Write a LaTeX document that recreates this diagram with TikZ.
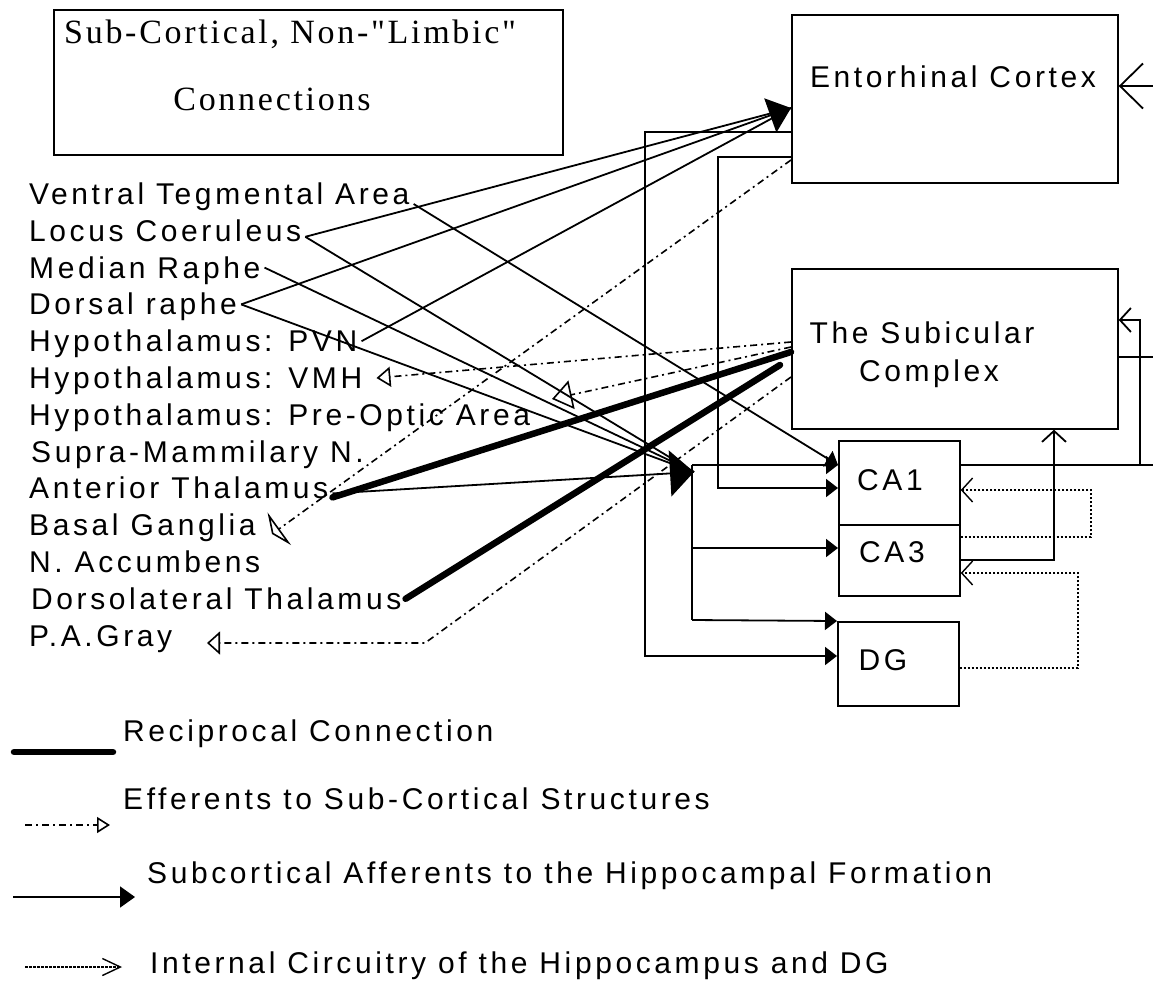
\documentclass[tikz,border=0pt]{standalone}
\usepackage{fontspec}
\newfontfamily\plotsans[LetterSpace=12]{Liberation Sans}
\newfontfamily\plotserif[LetterSpace=8]{Liberation Serif}
\usetikzlibrary{arrows.meta}
\begin{document}
\begin{tikzpicture}[x=1pt,y=-1pt,
  lbl/.style={font=\plotsans\fontsize{30}{34}\selectfont, text height=21pt, text depth=0pt, inner sep=0pt, inner xsep=4pt, anchor=west},
  ctr/.style={font=\plotsans\fontsize{30}{34}\selectfont, text height=21pt, text depth=0pt, inner sep=0pt},
  ttl/.style={font=\plotserif\fontsize{34}{38}\selectfont, text height=22pt, text depth=0pt, inner sep=0pt},
  box/.style={draw, line width=1.7pt, anchor=north west, inner sep=0pt},
  aff/.style={line width=1.8pt},
  recip/.style={line width=6.5pt, line cap=round},
  eff/.style={line width=1.6pt, dash pattern=on 7pt off 4pt on 2pt off 4pt},
  intc/.style={line width=1.4pt, dash pattern=on 2.5pt off 1.5pt},
  ftip/.style={-{Triangle[length=12pt,width=18pt]}},
  barb/.style={-{Straight Barb[length=11pt,width=24pt]}}
]
\fill[white] (0,0) rectangle (1153,985);
\useasboundingbox (0,0) rectangle (1153,985);

% ---------- boxes ----------
\node[box, minimum width=509pt, minimum height=145pt] (title) at (53,9) {};
\node[ttl, anchor=west] (t1) at (64,32) {Sub-Cortical, Non-"Limbic"};
\node[ttl] (t2) at (272,99) {Connections};

\node[box, minimum width=326pt, minimum height=168pt] (ec) at (791,14) {};
\node[ctr] (ect) at (953,77) {Entorhinal Cortex};
\node[box, minimum width=326pt, minimum height=160pt] (sub) at (791,268) {};
\node[ctr] (subt1) at (922,333) {The Subicular};
\node[ctr] (subt2) at (929,371) {Complex};
\node[box, minimum width=121pt, minimum height=84pt] (ca1) at (838,440) {};
\node[ctr] (ca1t) at (890,480) {CA1};
\node[box, minimum width=121pt, minimum height=71pt] (ca3) at (838,524) {};
\node[ctr] (ca3t) at (892,552) {CA3};
\node[box, minimum width=121pt, minimum height=84pt] (dg) at (837,621) {};
\node[ctr] (dgt) at (883,660) {DG};

% ---------- sub-cortical labels ----------
\node[lbl] (vta) at (25,194) {Ventral Tegmental Area};
\node[lbl] (lc)  at (25,230.8) {Locus Coeruleus};
\node[lbl] (mr)  at (25,267.6) {Median Raphe};
\node[lbl] (dr)  at (25,304.4) {Dorsal raphe};
\node[lbl] (pvn) at (25,341.2) {Hypothalamus: PVN};
\node[lbl] (vmh) at (25,378) {Hypothalamus: VMH};
\node[lbl] (poa) at (25,414.8) {Hypothalamus: Pre-Optic Area};
\node[lbl] (smn) at (27,451.6) {Supra-Mammilary N.};
\node[lbl] (at)  at (25,488.4) {Anterior Thalamus};
\node[lbl] (bg)  at (25,525.2) {Basal Ganglia};
\node[lbl] (nac) at (25,562) {N. Accumbens};
\node[lbl] (dlt) at (27,598.8) {Dorsolateral Thalamus};
\node[lbl] (pag) at (25,635.6) {P.A.Gray};

% ---------- named points ----------
\coordinate (ecin) at (791,108);
\coordinate (hin) at (694,472);
\coordinate (hj) at (692,465);
\coordinate (dltend) at (780,365);
\coordinate (poatip) at (552,399);
\coordinate (bgtip) at (272,534);
\coordinate (pagtip) at (207,643);
\coordinate (pagbend) at (425,643);
\coordinate (edge1) at (1153,86);
\coordinate (edge2) at (1153,357);
\coordinate (edge3) at (1153,465);

% ---------- afferents to the entorhinal cortex ----------
\draw[aff] ([yshift=-6pt]lc.east) -- (ecin);
\draw[aff] (pvn.east) -- (ecin);
\draw[aff, -{Triangle[length=22pt,width=36pt]}] (dr.east) -- (ecin);

% ---------- afferents to the hippocampus ----------
\draw[aff] ([yshift=-6pt]lc.east) -- (hin);
\draw[aff] (mr.east) -- (hin);
\draw[aff] (dr.east) -- (hin);
\draw[aff, -{Triangle[length=24pt,width=46pt]}] ([yshift=-5pt]at.east) -- (hin);
\draw[aff, ftip] ([yshift=-10pt]vta.east) -- (ca1.west |- 0,465);

\draw[aff] (hj) -- (692,620);
\draw[aff, ftip] (hj) -- (ca1.west |- hj);
\draw[aff, ftip] (692,548) -- (ca3.west |- 0,548);
\draw[aff, ftip] (692,620) -- (dg.north west);

\draw[aff, ftip] (ec.west |- 0,132) -- (645,132) -- (645,656) -- (dg.west |- 0,656);
\draw[aff, ftip] (ec.west |- 0,157) -- (718,157) -- (718,488) -- (ca1.west |- 0,488);

% ---------- reciprocal connections ----------
\draw[recip] ([yshift=-9pt]at.east) -- (sub.west |- 0,352);
\draw[recip] (dlt.east) -- (dltend);

% ---------- efferents ----------
\draw[eff, -{Triangle[open,length=14pt,width=20pt]}] (sub.west |- 0,342) -- ([xshift=10pt]vmh.east);
\draw[eff, -{Triangle[open,length=20pt,width=29pt]}] (sub.west |- 0,347) -- (poatip);
\draw[eff, -{Triangle[open,length=9pt,width=40pt]}] (ec.west |- 0,160) -- (bgtip);
\draw[eff, -{Triangle[open,length=13pt,width=23pt]}] (sub.west |- 0,377) -- (pagbend) -- (pagtip);

% ---------- internal circuitry ----------
\draw[aff, -{Straight Barb[length=23pt,width=45pt]}] (edge1) -- (ec.east |- edge1);
\draw[aff] (sub.east |- edge2) -- (edge2);
\draw[aff, barb] (ca1.east |- edge3) -- (1140,465) -- (1140,320) -- (sub.east |- 0,320);
\draw[aff] (1140,465) -- (edge3);
\draw[aff, barb] (ca3.east |- 0,560) -- (1054,560) -- (1054,0 |- sub.south);
\draw[intc, barb] (ca3.east |- 0,537) -- (1091,537) -- (1091,490) -- (ca1.east |- 0,490);
\draw[intc, barb] (dg.east |- 0,668) -- (1078,668) -- (1078,573) -- (ca3.east |- 0,573);

% ---------- legend ----------
\node[lbl] (lg1) at (119,731) {Reciprocal Connection};
\node[lbl] (lg2) at (119,799) {Efferents to Sub-Cortical Structures};
\node[lbl] (lg3) at (143,873) {Subcortical Afferents to the Hippocampal Formation};
\node[lbl] (lg4) at (146,963) {Internal Circuitry of the Hippocampus and DG};
\coordinate (r0) at (14,752);  \coordinate (r1) at (113,752);
\coordinate (e0) at (25,825);  \coordinate (e1) at (110,825);
\coordinate (s0) at (13,897);  \coordinate (s1) at (135,897);
\coordinate (i0) at (25,967);  \coordinate (i1) at (122,967);
\draw[recip] (r0) -- (r1);
\draw[eff, -{Triangle[open,length=13pt,width=16pt]}] (e0) -- (e1);
\draw[aff, -{Triangle[length=15pt,width=21pt]}] (s0) -- (s1);
\draw[intc, -{Straight Barb[length=18pt,width=17pt]}] (i0) -- (i1);
\end{tikzpicture}
\end{document}
